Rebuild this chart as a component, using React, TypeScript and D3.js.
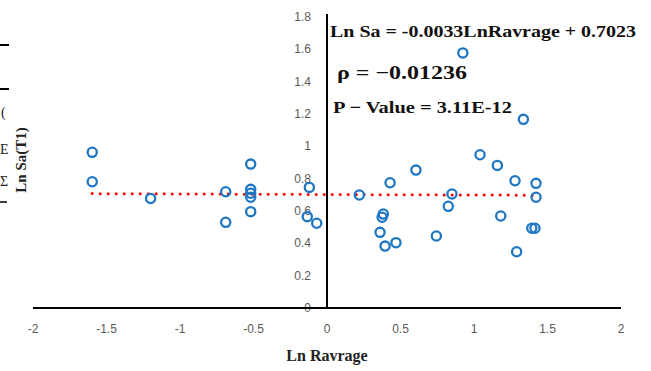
import { useEffect, useRef } from "react";
import * as d3 from "d3";

// Ln Ravrage (x) and Ln Sa(T1) (y)
const lnRavrage = [
  -1.597, -1.597, -1.2, -0.689, -0.689, -0.519, -0.519, -0.519, -0.519, -0.519,
  -0.12, -0.134, -0.07, 0.22, 0.429, 0.605, 0.383, 0.375, 0.361, 0.395,
  0.469, 0.744, 0.825, 0.85, 0.924, 1.041, 1.159, 1.336, 1.279, 1.422,
  1.422, 1.182, 1.393, 1.415, 1.29,
];
const lnSa = [
  0.963, 0.781, 0.678, 0.719, 0.53, 0.89, 0.734, 0.71, 0.685, 0.596,
  0.746, 0.565, 0.524, 0.699, 0.775, 0.853, 0.581, 0.561, 0.468, 0.383,
  0.404, 0.445, 0.629, 0.705, 1.578, 0.948, 0.882, 1.167, 0.787, 0.771,
  0.685, 0.569, 0.493, 0.493, 0.348,
];

const xTicks = [-2, -1.5, -1, -0.5, 0, 0.5, 1, 1.5, 2];
const yTicks = [0, 0.2, 0.4, 0.6, 0.8, 1, 1.2, 1.4, 1.6, 1.8];

const slope = -0.0033;
const intercept = 0.7023;

const notes = [
  { text: "Ln Sa = -0.0033LnRavrage + 0.7023", x: 330, y: 37, size: 17, w: 306 },
  { text: "ρ = −0.01236", x: 337, y: 79, size: 19, w: 130 },
  { text: "P − Value = 3.11E-12", x: 333, y: 113, size: 17, w: 179 },
];

export default function App() {
  const ref = useRef<SVGSVGElement>(null);

  useEffect(() => {
    const svg = d3.select(ref.current);
    svg.selectAll("*").remove();

    const x = d3.scaleLinear().domain([-2, 2]).range([33, 621]);
    const y = d3.scaleLinear().domain([0, 1.8]).range([308, 17]);
    const tickFont = "'Liberation Sans', Arial, sans-serif";
    const serif = "'Liberation Serif', 'Times New Roman', serif";

    // leftover bits of the neighbouring figure on the left edge
    const edge = svg.append("g");
    edge.append("line").attr("x1", 0).attr("x2", 9).attr("y1", 45).attr("y2", 45)
      .attr("stroke", "#000").attr("stroke-width", 2);
    edge.append("line").attr("x1", 0).attr("x2", 9).attr("y1", 89).attr("y2", 89)
      .attr("stroke", "#000").attr("stroke-width", 2);
    edge.append("line").attr("x1", 0).attr("x2", 7).attr("y1", 202).attr("y2", 202)
      .attr("stroke", "#000").attr("stroke-width", 1.5);
    [["(", 1, 117], ["E", 0, 154], ["Σ", 0, 186]].forEach(([t, tx, ty]) => {
      edge.append("text").attr("x", tx).attr("y", ty).text(t as string)
        .style("font-family", serif).style("font-size", "14px").attr("fill", "#222");
    });

    // y tick labels
    svg.append("g").selectAll("text").data(yTicks).join("text")
      .attr("x", 311).attr("y", (d) => y(d) + 4)
      .attr("text-anchor", "end")
      .style("font-family", tickFont).style("font-size", "12px")
      .attr("fill", "#595959")
      .text((d) => String(d));

    // x tick labels
    svg.append("g").selectAll("text").data(xTicks).join("text")
      .attr("x", (d) => x(d)).attr("y", 333)
      .attr("text-anchor", "middle")
      .style("font-family", tickFont).style("font-size", "12px")
      .attr("fill", "#595959")
      .text((d) => String(d));

    // axes lines
    svg.append("line").attr("x1", x(-2)).attr("x2", x(2)).attr("y1", y(0)).attr("y2", y(0))
      .attr("stroke", "#000").attr("stroke-width", 2);
    svg.append("line").attr("x1", x(0)).attr("x2", x(0)).attr("y1", 14).attr("y2", y(0))
      .attr("stroke", "#000").attr("stroke-width", 2);

    // trend line
    const [x0, x1] = d3.extent(lnRavrage) as [number, number];
    svg.append("line")
      .attr("x1", x(x0)).attr("x2", x(x1))
      .attr("y1", y(slope * x0 + intercept)).attr("y2", y(slope * x1 + intercept))
      .attr("stroke", "#ff0000").attr("stroke-width", 3)
      .attr("stroke-linecap", "round").attr("stroke-dasharray", "0 8");

    // points
    svg.append("g").selectAll("circle").data(lnRavrage).join("circle")
      .attr("cx", (d) => x(d)).attr("cy", (d, i) => y(lnSa[i]))
      .attr("r", 4.6)
      .attr("fill", "none").attr("stroke", "#1f77c4").attr("stroke-width", 2.3);

    // annotations
    svg.append("g").selectAll("text").data(notes).join("text")
      .attr("x", (d) => d.x).attr("y", (d) => d.y)
      .attr("textLength", (d) => d.w).attr("lengthAdjust", "spacingAndGlyphs")
      .style("font-family", serif).style("font-weight", "bold")
      .style("font-size", (d) => d.size + "px")
      .attr("fill", "#111")
      .text((d) => d.text);

    // axis titles
    svg.append("text").attr("x", x(0)).attr("y", 361).attr("text-anchor", "middle")
      .style("font-family", serif).style("font-weight", "bold").style("font-size", "16px")
      .attr("fill", "#222").text("Ln Ravrage");
    svg.append("text").attr("transform", "translate(26,160) rotate(-90)")
      .attr("text-anchor", "middle")
      .style("font-family", serif).style("font-weight", "bold").style("font-size", "15px")
      .attr("fill", "#222").text("Ln Sa(T1)");
  }, []);

  return (
    <svg ref={ref} width={651} height={371}
      style={{ position: "absolute", left: 0, top: 0, background: "#fff" }} />
  );
}
